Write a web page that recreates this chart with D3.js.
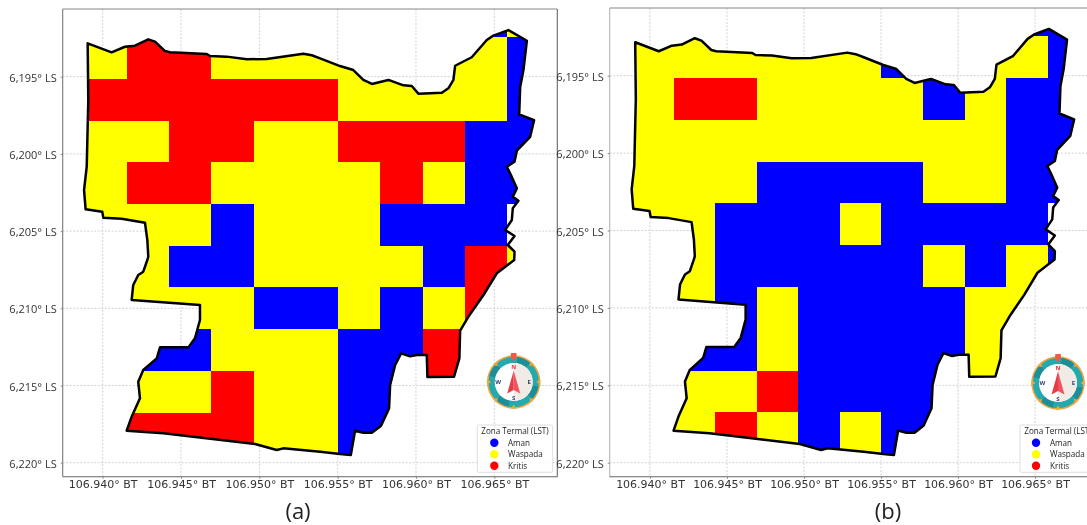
<!DOCTYPE html>
<html>
<head>
<meta charset="utf-8">
<script src="https://cdn.jsdelivr.net/npm/d3@7/dist/d3.min.js"></script>
<style>
html,body{margin:0;padding:0;background:#fff;overflow:hidden}
svg{display:block;font-family:"Open Sans","Noto Sans",sans-serif;filter:blur(0.35px)}
</style>
</head>
<body>
<svg id="chart" width="1087" height="525"></svg>
<script>
// Axis ticks
const lonTicks = [106.940, 106.945, 106.950, 106.955, 106.960, 106.965];
const latTicks = [6.195, 6.200, 6.205, 6.210, 6.215, 6.220];

// Thermal zone classes
const zoneCodes = ["A", "W", "K"];
const zoneNames = ["Aman", "Waspada", "Kritis"];
const zoneColors = ["#0000ff", "#ffff00", "#ff0000"];
const legendTitle = "Zona Termal (LST)";

// Grid geometry in degrees
const gridLon0 = 106.93883;
const gridLat0 = 6.18975;
const cellDeg = 0.0027;

// Classified cells, north to south, west to east
const zonesA = [
  ".........AW",
  "WKKWWWWWWWA",
  "KKKKKKWWWWA",
  "WWKKWWKKKAA",
  "WKKWWWWKWAA",
  "WWWAWWWAAA.",
  "WWAAWWWWAKW",
  "WWWWAAWAWK.",
  ".AAWWWAAKK.",
  ".WWKWWAAK..",
  "KKKKWWAA..."
];
const zonesB = [
  ".........AA",
  "WWWWWWAWWWA",
  "WKKWWWWAWAA",
  "WWWWWWWWWAA",
  "WWWAAAAWWAA",
  "WWAAAWAAAA.",
  "WWAAAAAWAWA",
  "WWAWAAAAWW.",
  ".AAWAAAAWW.",
  ".WWKAAAAW..",
  "WWKWAWAA..."
];

// Administrative boundary, longitude and latitude
const boundaryLon = [
  106.93904,106.94057,106.94142,106.94206,106.94291,106.94334,106.94398,106.94430,
  106.94664,106.94685,106.94792,106.94920,106.95047,106.95281,106.95335,106.95388,
  106.95515,106.95600,106.95664,106.95718,106.95824,106.95920,106.95973,106.96015,
  106.96165,106.96207,106.96239,106.96250,106.96356,106.96452,106.96494,106.96590,
  106.96708,106.96686,106.96665,106.96659,106.96754,106.96729,106.96644,106.96629,
  106.96580,106.96606,106.96644,106.96618,106.96654,106.96618,106.96612,106.96569,
  106.96629,106.96586,106.96629,106.96627,106.96516,106.96431,106.96335,106.96282,
  106.96277,106.96243,106.96073,106.96069,106.96005,106.95962,106.95905,106.95867,
  106.95835,106.95828,106.95777,106.95718,106.95664,106.95611,106.95584,106.95515,
  106.95388,106.95153,106.95111,106.94973,106.94387,106.94153,106.94185,106.94238,
  106.94227,106.94259,106.94345,106.94366,106.94547,106.94589,106.94621,106.94621,
  106.94185,106.94195,106.94227,106.94259,106.94285,106.94291,106.94285,106.94270,
  106.94121,106.94004,106.93997,106.93891,106.93881,106.93898,106.93908
];
const boundaryLat = [
  6.19284,6.19342,6.19306,6.19299,6.19258,6.19273,6.19334,6.19342,
  6.19353,6.19366,6.19370,6.19387,6.19385,6.19351,6.19361,6.19381,
  6.19431,6.19457,6.19521,6.19547,6.19521,6.19556,6.19560,6.19610,
  6.19604,6.19575,6.19521,6.19429,6.19374,6.19262,6.19234,6.19198,
  6.19267,6.19457,6.19569,6.19744,6.19782,6.19889,6.19979,6.20051,
  6.20083,6.20137,6.20223,6.20277,6.20303,6.20352,6.20428,6.20493,
  6.20532,6.20590,6.20633,6.20687,6.20773,6.20914,6.21054,6.21145,
  6.21324,6.21443,6.21445,6.21303,6.21303,6.21311,6.21292,6.21367,
  6.21497,6.21648,6.21760,6.21806,6.21806,6.21793,6.21950,6.21944,
  6.21929,6.21907,6.21918,6.21879,6.21810,6.21793,6.21702,6.21583,
  6.21476,6.21400,6.21324,6.21253,6.21253,6.21194,6.21076,6.20979,
  6.20946,6.20849,6.20784,6.20763,6.20687,6.20666,6.20558,6.20446,
  6.20420,6.20413,6.20374,6.20359,6.20234,6.20083,6.19651
];

// Panel captions
const panelNames = ["(a)", "(b)"];

// ---- Layout constants (pixels) ----
const layouts = [
  {zones: zonesA, name: panelNames[0], xr: [102.7, 494.3], yr: [76.7, 462.7],
   frame: {l: 62.7, t: 9, r: 557.3, b: 476.7}, captionX: 298,
   spines: {l: "#777", t: "#888", r: "#666", b: "#666"},
   compass: [513.7, 382], legend: {x: 477.3, w: 75.4, mark: 494.3, text: 508, title: 515}},
  {zones: zonesB, name: panelNames[1], xr: [650, 1035], yr: [75.7, 462.7],
   frame: {l: 609.7, t: 8, r: 1100, b: 476.7}, captionX: 888,
   spines: {l: "#b5b5b5", t: "#888", r: "#888", b: "#666"},
   compass: [1058, 383], legend: {x: 1020, w: 90, mark: 1036, text: 1050, title: 1058}}
];

const svg = d3.select("#chart");
const defs = svg.append("defs");
const boundaryPts = boundaryLon.map((lon, i) => [lon, boundaryLat[i]]);
const color = d3.scaleOrdinal().domain(zoneCodes).range(zoneColors);

function drawCompass(g, cx, cy) {
  const c = g.append("g").attr("transform", `translate(${cx},${cy})`);
  c.append("circle").attr("r", 26.8).attr("fill", "#f0a63c");
  c.append("circle").attr("r", 25.2).attr("fill", "#26a9ad");
  const arc = d3.arc().innerRadius(19).outerRadius(25.2);
  [[0.15, 0.7], [1.75, 2.3], [3.35, 3.9], [4.95, 5.5]].forEach(([a, b]) =>
    c.append("path").attr("d", arc({startAngle: a, endAngle: b})).attr("fill", "#1d8e98"));
  c.append("circle").attr("r", 19).attr("fill", "#ffffff");
  c.append("path").attr("d", d3.arc().innerRadius(0).outerRadius(19)({startAngle: 0, endAngle: Math.PI})).attr("fill", "#f1ebe5");
  d3.range(8).forEach(i => {
    c.append("path").attr("d", "M-2.6,-26.5 L2.6,-26.5 L0,-22.5 Z")
      .attr("fill", "#f0a63c").attr("transform", `rotate(${i * 45})`);
  });
  c.append("path").attr("d", "M-2.8,-29 L2.8,-29 L2.8,-24 L0,-21 L-2.8,-24 Z").attr("fill", "#ee5a42");
  c.append("path").attr("d", "M0,-11.5 L-6.5,11.5 L0,8 Z").attr("fill", "#e63c48");
  c.append("path").attr("d", "M0,-11.5 L6.5,11.5 L0,8 Z").attr("fill", "#ee5560");
  const letters = [["N", 0, -15, "#e0303a"], ["S", 0, 15.5, "#34407a"], ["W", -15.5, 0, "#34407a"], ["E", 15.5, 0, "#34407a"]];
  letters.forEach(([t, x, y, col]) => {
    c.append("text").attr("x", x).attr("y", y).attr("dy", "0.35em")
      .attr("text-anchor", "middle").attr("font-size", 6).attr("font-weight", 700)
      .attr("fill", col).text(t);
  });
}

layouts.forEach((p, pi) => {
  const x = d3.scaleLinear().domain([lonTicks[0], lonTicks[5]]).range(p.xr);
  const y = d3.scaleLinear().domain([latTicks[0], latTicks[5]]).range(p.yr);
  const g = svg.append("g");
  const f = p.frame;

  // grid
  const grid = g.append("g").attr("stroke", "#d2d2d2").attr("stroke-width", 1).attr("stroke-dasharray", "2,1.5");
  grid.selectAll(".gx").data(lonTicks).join("line")
    .attr("x1", d => x(d)).attr("x2", d => x(d)).attr("y1", f.t).attr("y2", f.b);
  grid.selectAll(".gy").data(latTicks).join("line")
    .attr("y1", d => y(d)).attr("y2", d => y(d)).attr("x1", f.l).attr("x2", f.r);

  // cells clipped to boundary
  const line = d3.line().x(d => x(d[0])).y(d => y(d[1])).curve(d3.curveLinearClosed);
  const clipId = "clip" + pi;
  defs.append("clipPath").attr("id", clipId).append("path").attr("d", line(boundaryPts));
  const cells = [];
  p.zones.forEach((row, r) => row.split("").forEach((code, c) => {
    if (code !== ".") cells.push({r, c, code});
  }));
  g.append("g").attr("clip-path", `url(#${clipId})`).selectAll("rect").data(cells).join("rect")
    .attr("x", d => x(gridLon0 + d.c * cellDeg))
    .attr("y", d => y(gridLat0 + d.r * cellDeg))
    .attr("width", x(gridLon0 + cellDeg) - x(gridLon0))
    .attr("height", y(gridLat0 + cellDeg) - y(gridLat0))
    .attr("fill", d => color(d.code))
    .attr("shape-rendering", "crispEdges");
  g.append("path").attr("d", line(boundaryPts)).attr("fill", "none")
    .attr("stroke", "#000").attr("stroke-width", 2.5).attr("stroke-linejoin", "round");

  // frame spines
  const sp = g.append("g").attr("stroke-width", 1.1);
  sp.append("line").attr("x1", f.l).attr("x2", f.l).attr("y1", f.t).attr("y2", f.b).attr("stroke", p.spines.l);
  sp.append("line").attr("x1", f.l).attr("x2", f.r).attr("y1", f.t).attr("y2", f.t).attr("stroke", p.spines.t);
  sp.append("line").attr("x1", f.r).attr("x2", f.r).attr("y1", f.t).attr("y2", f.b).attr("stroke", p.spines.r);
  sp.append("line").attr("x1", f.l).attr("x2", f.r).attr("y1", f.b).attr("y2", f.b).attr("stroke", p.spines.b);

  // axes
  const ax = g.append("g").attr("transform", `translate(0,${f.b})`)
    .call(d3.axisBottom(x).tickValues(lonTicks).tickSize(2).tickPadding(1.5).tickFormat(d => d.toFixed(3) + "° BT"));
  const ay = g.append("g").attr("transform", `translate(${f.l},0)`)
    .call(d3.axisLeft(y).tickValues(latTicks).tickSize(2).tickPadding(4).tickFormat(d => d.toFixed(3).replace(".", ",") + "° LS"));
  ax.selectAll("text").attr("font-size", 11).attr("font-family", '"DejaVu Sans",sans-serif');
  ay.selectAll("text").attr("font-size", 11).attr("dy", "0.42em").attr("font-family", '"Open Sans",sans-serif');
  [ax, ay].forEach(a => {
    a.select(".domain").remove();
    a.selectAll("line").attr("stroke", "#888");
    a.selectAll("text").attr("fill", "#333");
  });

  // caption
  g.append("text").attr("x", p.captionX).attr("y", 519).attr("text-anchor", "middle")
    .attr("font-size", 22).attr("fill", "#222").text(p.name);

  drawCompass(g, p.compass[0], p.compass[1]);

  // legend
  const L = p.legend;
  const lg = g.append("g");
  lg.append("rect").attr("x", L.x).attr("y", 425).attr("width", L.w).attr("height", 47.3).attr("rx", 1.5)
    .attr("fill", "#fff").attr("fill-opacity", 0.85).attr("stroke", "#d5d5d5").attr("stroke-width", 0.8);
  lg.append("text").attr("x", L.title).attr("y", 434).attr("text-anchor", "middle")
    .attr("font-size", 8.1).attr("fill", "#222").text(legendTitle);
  const items = lg.selectAll(".item").data(zoneNames).join("g")
    .attr("transform", (d, i) => `translate(0,${442.8 + i * 11.5})`);
  items.append("circle").attr("cx", L.mark).attr("r", 4.2).attr("fill", (d, i) => zoneColors[i]);
  items.append("text").attr("x", L.text).attr("y", 0).attr("dy", "0.35em")
    .attr("font-size", 8.1).attr("fill", "#222").text(d => d);
});
</script>
</body>
</html>
